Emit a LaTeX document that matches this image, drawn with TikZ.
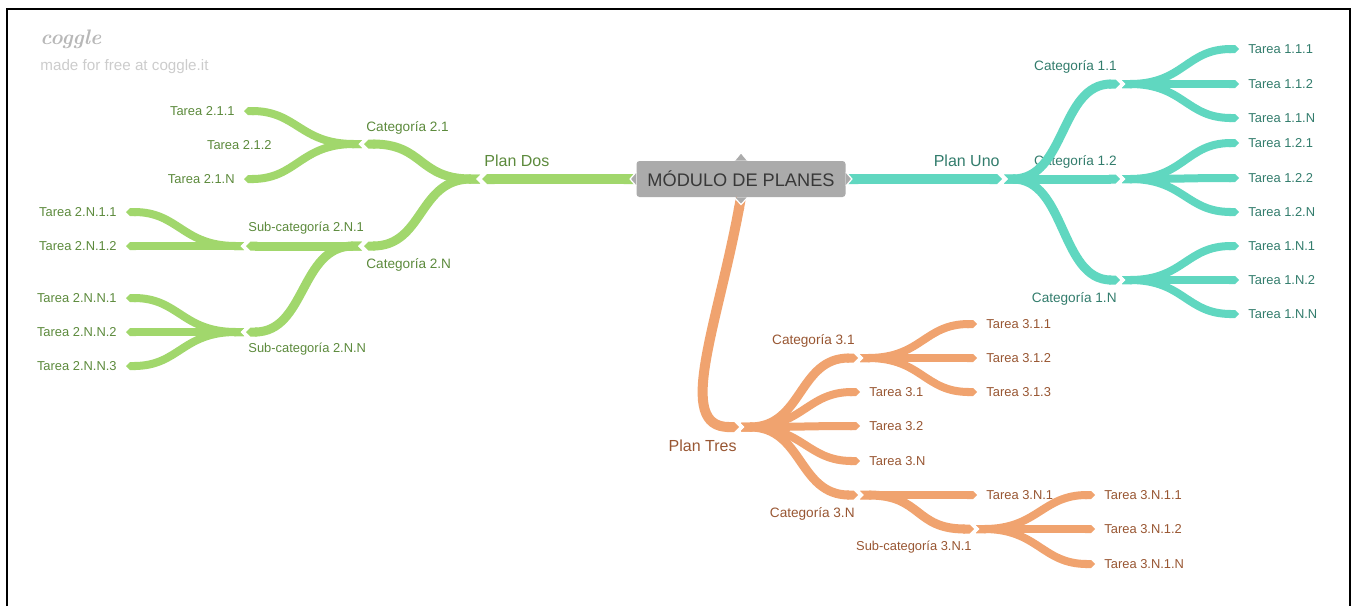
\documentclass[tikz,border=0pt]{standalone}
\usepackage{fontspec}
\newfontfamily\arialfont{Liberation Sans}
\usetikzlibrary{positioning}
\usetikzlibrary{arrows.meta}

\definecolor{grline}{RGB}{161,215,108}
\definecolor{grtext}{RGB}{92,138,60}
\definecolor{tlline}{RGB}{96,215,192}
\definecolor{tltext}{RGB}{50,124,108}
\definecolor{orline}{RGB}{240,163,111}
\definecolor{ortext}{RGB}{152,86,50}
\definecolor{boxgray}{RGB}{171,171,171}

\begin{document}
\begin{tikzpicture}[x=0.5pt, y=-0.5pt,
  br/.style={line width=4.5pt, arrows={Triangle Cap[reversed]-Triangle Cap}},
  gbr/.style={br, color=grline},
  tbr/.style={br, color=tlline},
  obr/.style={br, color=orline},
  lft/.style={to path={.. controls +(-62,0) and +(62,0) .. (\tikztotarget)}},
  rgt/.style={to path={.. controls +(62,0) and +(-62,0) .. (\tikztotarget)}},
  junc/.style={shorten >=1pt},
  leaf/.style={shorten >=4.5pt, line width=4pt},
  lbl/.style={inner sep=0pt, font=\arialfont\fontsize{6.45}{7.5}\selectfont},
  cat/.style={inner sep=0pt, font=\arialfont\fontsize{6.8}{8}\selectfont},
  plan/.style={inner sep=0pt, font=\arialfont\fontsize{8}{9.5}\selectfont},
  tab/.style={fill=boxgray, draw=white, line width=0.6pt}]

\useasboundingbox (0,0) rectangle (1353,606);
\draw[line width=1pt] (7,606) -- (7,9) -- (1350,9) -- (1350,606);

\node (logo) at (40,39) [anchor=west, inner sep=0pt, text=black!28, font=\fontsize{10.5}{12}\selectfont\itshape\bfseries] {coggle};
\node (made) at (40,67) [anchor=west, inner sep=0pt, text=black!20, font=\arialfont\fontsize{7.6}{9}\selectfont] {made for free at coggle.it};

\node (C) at (741,179) [fill=boxgray, rounded corners=1.5pt, minimum width=104.5pt, minimum height=18pt, inner sep=0pt, text=black!78, font=\arialfont\fontsize{9.1}{11}\selectfont] {MÓDULO DE PLANES};

\coordinate (P1) at (1004,179);
\coordinate (P2) at (480,179);
\coordinate (P3) at (741,427);
\coordinate (K11) at (1122,84);
\coordinate (K12) at (1122,179);
\coordinate (K1N) at (1122,280);
\coordinate (K21) at (362,144);
\coordinate (K2N) at (362,246);
\coordinate (S2N1) at (244,246);
\coordinate (S2NN) at (244,332);
\coordinate (K31) at (860,358);
\coordinate (K3N) at (860,495);
\coordinate (S3N1) at (976,529);

\node (nP1) [above left=6pt and 2pt of P1, plan, text=tltext] {Plan Uno};
\node (nK11) [above left=5pt and 2.5pt of K11, cat, text=tltext] {Categoría 1.1};
\node (nK12) [above left=5pt and 2.5pt of K12, cat, text=tltext] {Categoría 1.2};
\node (nK1N) [below left=6pt and 2.5pt of K1N, cat, text=tltext] {Categoría 1.N};

\node (nP2) [above right=6pt and 2pt of P2, plan, text=grtext] {Plan Dos};
\node (nK21) [above right=4.5pt and 2pt of K21, cat, text=grtext] {Categoría 2.1};
\node (nK2N) [below right=6pt and 2pt of K2N, cat, text=grtext] {Categoría 2.N};
\node (nS2N1) [above right=5.5pt and 2pt of S2N1, lbl, text=grtext] {Sub-categoría 2.N.1};
\node (nS2NN) [below right=5.5pt and 2pt of S2NN, lbl, text=grtext] {Sub-categoría 2.N.N};

\node (nP3) [below left=6pt and 2pt of P3, plan, text=ortext] {Plan Tres};
\node (nK31) [above left=5pt and 2.5pt of K31, cat, text=ortext] {Categoría 3.1};
\node (nK3N) [below left=6pt and 2.5pt of K3N, cat, text=ortext] {Categoría 3.N};
\node (nS3N1) [below left=6pt and 2pt of S3N1, lbl, text=ortext] {Sub-categoría 3.N.1};

\node (T111) at (1248,49) [anchor=west, lbl, text=tltext] {Tarea 1.1.1};
\node (T112) at (1248,84) [anchor=west, lbl, text=tltext] {Tarea 1.1.2};
\node (T11N) at (1248,118) [anchor=west, lbl, text=tltext] {Tarea 1.1.N};
\node (T121) at (1248,143) [anchor=west, lbl, text=tltext] {Tarea 1.2.1};
\node (T122) at (1248,178) [anchor=west, lbl, text=tltext] {Tarea 1.2.2};
\node (T12N) at (1248,212) [anchor=west, lbl, text=tltext] {Tarea 1.2.N};
\node (T1N1) at (1248,246) [anchor=west, lbl, text=tltext] {Tarea 1.N.1};
\node (T1N2) at (1248,280) [anchor=west, lbl, text=tltext] {Tarea 1.N.2};
\node (T1NN) at (1248,314) [anchor=west, lbl, text=tltext] {Tarea 1.N.N};

\node (T211) at (235,111) [anchor=east, lbl, text=grtext] {Tarea 2.1.1};
\node (T212) at (272,145) [anchor=east, lbl, text=grtext] {Tarea 2.1.2};
\node (T21N) at (235,179) [anchor=east, lbl, text=grtext] {Tarea 2.1.N};
\node (T2N11) at (117,212) [anchor=east, lbl, text=grtext] {Tarea 2.N.1.1};
\node (T2N12) at (117,246) [anchor=east, lbl, text=grtext] {Tarea 2.N.1.2};
\node (T2NN1) at (117,298) [anchor=east, lbl, text=grtext] {Tarea 2.N.N.1};
\node (T2NN2) at (117,332) [anchor=east, lbl, text=grtext] {Tarea 2.N.N.2};
\node (T2NN3) at (117,366) [anchor=east, lbl, text=grtext] {Tarea 2.N.N.3};

\node (T31) at (869,392) [anchor=west, lbl, text=ortext] {Tarea 3.1};
\node (T32) at (869,426) [anchor=west, lbl, text=ortext] {Tarea 3.2};
\node (T3N) at (869,461) [anchor=west, lbl, text=ortext] {Tarea 3.N};
\node (T311) at (986,324) [anchor=west, lbl, text=ortext] {Tarea 3.1.1};
\node (T312) at (986,358) [anchor=west, lbl, text=ortext] {Tarea 3.1.2};
\node (T313) at (986,392) [anchor=west, lbl, text=ortext] {Tarea 3.1.3};
\node (T3N1) at (986,495) [anchor=west, lbl, text=ortext] {Tarea 3.N.1};
\node (T3N11) at (1104,495) [anchor=west, lbl, text=ortext] {Tarea 3.N.1.1};
\node (T3N12) at (1104,529) [anchor=west, lbl, text=ortext] {Tarea 3.N.1.2};
\node (T3N1N) at (1104,564) [anchor=west, lbl, text=ortext] {Tarea 3.N.1.N};

\path[tbr, line width=5pt] (C.east) edge[rgt, junc] (P1);
\path[tbr] (P1) edge[rgt, junc] (K11) edge[rgt, junc] (K12) edge[rgt, junc] (K1N);
\path[tbr] (K11) edge[rgt, leaf] (T111.west) edge[rgt, leaf] (T112.west) edge[rgt, leaf] (T11N.west);
\path[tbr] (K12) edge[rgt, leaf] (T121.west) edge[rgt, leaf] (T122.west) edge[rgt, leaf] (T12N.west);
\path[tbr] (K1N) edge[rgt, leaf] (T1N1.west) edge[rgt, leaf] (T1N2.west) edge[rgt, leaf] (T1NN.west);

\path[gbr, line width=5pt] (C.west) edge[lft, junc] (P2);
\path[gbr] (P2) edge[lft, junc] (K21) edge[lft, junc] (K2N);
\path[gbr] (K21) edge[lft, leaf] (T211.east) edge[lft, leaf] (T21N.east);
\path[gbr] (K2N) edge[lft, junc] (S2N1) edge[lft, junc] (S2NN);
\path[gbr] (S2N1) edge[lft, leaf] (T2N11.east) edge[lft, leaf] (T2N12.east);
\path[gbr] (S2NN) edge[lft, leaf] (T2NN1.east) edge[lft, leaf] (T2NN2.east) edge[lft, leaf] (T2NN3.east);

\draw[obr, line width=5pt, junc] (C.south) .. controls +(-24,130) and +(-66,0) .. (P3);
\path[obr] (P3) edge[rgt, junc] (K31) edge[rgt, leaf] (T31.west) edge[rgt, leaf] (T32.west) edge[rgt, leaf] (T3N.west) edge[rgt, junc] (K3N);
\path[obr] (K31) edge[rgt, leaf] (T311.west) edge[rgt, leaf] (T312.west) edge[rgt, leaf] (T313.west);
\path[obr] (K3N) edge[rgt, leaf] (T3N1.west) edge[rgt, junc] (S3N1);
\path[obr] (S3N1) edge[rgt, leaf] (T3N11.west) edge[rgt, leaf] (T3N12.west) edge[rgt, leaf] (T3N1N.west);

\filldraw[tab] ([xshift=-3.3pt]C.north) -- ([yshift=4pt]C.north) -- ([xshift=3.3pt]C.north);
\filldraw[tab] ([xshift=-3.3pt]C.south) -- ([yshift=-3.6pt]C.south) -- ([xshift=3.3pt]C.south);
\filldraw[tab] ([yshift=3.5pt]C.west) -- ([xshift=-3pt]C.west) -- ([yshift=-3.5pt]C.west);
\filldraw[tab] ([yshift=3.5pt]C.east) -- ([xshift=3pt]C.east) -- ([yshift=-3.5pt]C.east);
\end{tikzpicture}
\end{document}
